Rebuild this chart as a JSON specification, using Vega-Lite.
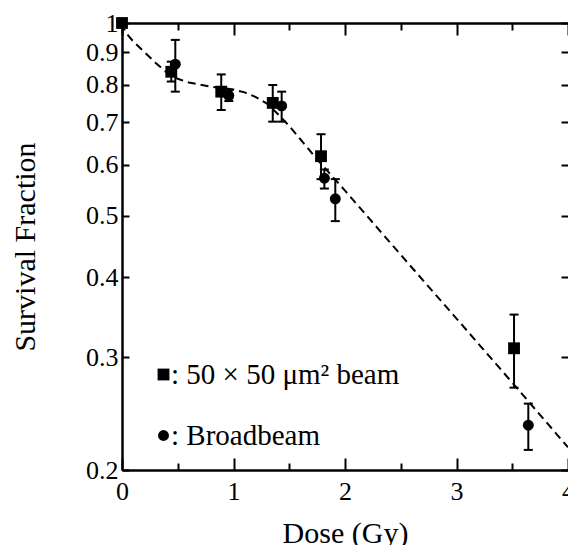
{
  "$schema": "https://vega.github.io/schema/vega-lite/v6.json",
  "width": 446,
  "height": 447,
  "autosize": "none",
  "padding": {"left": 122, "top": 23, "right": 0, "bottom": 75},
  "background": "white",
  "config": {
    "view": {"stroke": null},
    "font": "Liberation Serif",
    "axis": {
      "domainColor": "black", "domainWidth": 2.5, "tickColor": "black", "tickWidth": 2,
      "labelColor": "black", "labelFont": "Liberation Serif", "labelFontSize": 26,
      "titleFont": "Liberation Serif", "titleFontSize": 30, "titleFontWeight": "normal", "titleColor": "black",
      "grid": false, "labelFlush": false, "labelOverlap": false, "labelBound": false
    },
    "axisLeft": {"labelFont": "Liberation Serif", "labelFontSize": 26},
    "axisBottom": {"labelFont": "Liberation Serif", "labelFontSize": 26}
  },
  "datasets": {
    "fit": [
      {"dose": 0, "sf": 1.0}, {"dose": 0.03, "sf": 0.968}, {"dose": 0.1, "sf": 0.936},
      {"dose": 0.2, "sf": 0.901}, {"dose": 0.3, "sf": 0.867}, {"dose": 0.4, "sf": 0.837},
      {"dose": 0.45, "sf": 0.825}, {"dose": 0.5, "sf": 0.818}, {"dose": 0.6, "sf": 0.807},
      {"dose": 0.8, "sf": 0.795}, {"dose": 1.0, "sf": 0.787}, {"dose": 1.1, "sf": 0.779},
      {"dose": 1.2, "sf": 0.766}, {"dose": 1.3, "sf": 0.748}, {"dose": 1.4, "sf": 0.72},
      {"dose": 1.5, "sf": 0.69}, {"dose": 1.6, "sf": 0.658}, {"dose": 1.75, "sf": 0.612},
      {"dose": 2.0, "sf": 0.547}, {"dose": 2.5, "sf": 0.434}, {"dose": 3.0, "sf": 0.345},
      {"dose": 3.5, "sf": 0.274}, {"dose": 4.0, "sf": 0.217}
    ],
    "pts": [
      {"beam": "50 × 50 μm² beam", "dose": 0, "sf": 1.0, "lo": null, "hi": null},
      {"beam": "50 × 50 μm² beam", "dose": 0.442, "sf": 0.839, "lo": 0.81, "hi": 0.87},
      {"beam": "50 × 50 μm² beam", "dose": 0.89, "sf": 0.781, "lo": 0.731, "hi": 0.831},
      {"beam": "50 × 50 μm² beam", "dose": 1.352, "sf": 0.75, "lo": 0.701, "hi": 0.8},
      {"beam": "50 × 50 μm² beam", "dose": 1.785, "sf": 0.619, "lo": 0.57, "hi": 0.67},
      {"beam": "50 × 50 μm² beam", "dose": 3.516, "sf": 0.31, "lo": 0.269, "hi": 0.35},
      {"beam": "Broadbeam", "dose": 0.478, "sf": 0.862, "lo": 0.781, "hi": 0.941},
      {"beam": "Broadbeam", "dose": 0.958, "sf": 0.77, "lo": 0.755, "hi": 0.785},
      {"beam": "Broadbeam", "dose": 1.432, "sf": 0.742, "lo": 0.701, "hi": 0.781},
      {"beam": "Broadbeam", "dose": 1.815, "sf": 0.572, "lo": 0.551, "hi": 0.59},
      {"beam": "Broadbeam", "dose": 1.913, "sf": 0.531, "lo": 0.49, "hi": 0.57},
      {"beam": "Broadbeam", "dose": 3.644, "sf": 0.235, "lo": 0.215, "hi": 0.254}
    ]
  },
  "resolve": {"axis": {"x": "independent", "y": "independent"}},
  "layer": [
    {
      "data": {"name": "fit"},
      "mark": {"type": "line", "color": "black", "strokeWidth": 2, "strokeDash": [8, 5]},
      "encoding": {
        "x": {"field": "dose", "type": "quantitative", "scale": {"domain": [0, 4], "nice": false},
          "axis": {"orient": "bottom", "values": [0, 1, 2, 3, 4], "tickSize": -12, "labelPadding": 20,
            "labelFont": "Liberation Serif", "labelFontSize": 26, "labelColor": "black",
            "title": "Dose (Gy)", "titleFont": "Liberation Serif", "titleX": 223, "titleY": 72, "titleBaseline": "alphabetic", "titleAlign": "center", "titleAnchor": null}},
        "y": {"field": "sf", "type": "quantitative", "scale": {"type": "log", "domain": [0.2, 1], "nice": false},
          "axis": {"orient": "left", "values": [0.2, 0.3, 0.4, 0.5, 0.6, 0.7, 0.8, 0.9, 1], "format": "~g",
            "tickSize": -7, "labelPadding": 11,
            "labelFont": "Liberation Serif", "labelFontSize": 26, "labelColor": "black",
            "title": "Survival Fraction", "titleFont": "Liberation Serif", "titleAngle": -90, "titleX": -88, "titleY": 223.5,
            "titleBaseline": "alphabetic", "titleAlign": "center", "titleAnchor": null}}
      }
    },
    {
      "data": {"name": "pts"},
      "transform": [{"filter": "datum.lo != null"}],
      "mark": {"type": "rule", "color": "black", "strokeWidth": 2},
      "encoding": {
        "x": {"field": "dose", "type": "quantitative", "scale": {"domain": [0, 4], "nice": false},
          "axis": {"orient": "top", "values": [0, 1, 2, 3, 4], "tickSize": -12, "labels": false, "title": null}},
        "y": {"field": "lo", "type": "quantitative", "scale": {"type": "log", "domain": [0.2, 1], "nice": false},
          "axis": {"orient": "right", "values": [0.2, 0.3, 0.4, 0.5, 0.6, 0.7, 0.8, 0.9, 1], "tickSize": -7, "labels": false, "domain": false, "title": null}},
        "y2": {"field": "hi"}
      }
    },
    {
      "data": {"name": "pts"},
      "transform": [{"filter": "datum.lo != null"}],
      "mark": {"type": "tick", "orient": "horizontal", "color": "black", "size": 9, "thickness": 2, "opacity": 1},
      "encoding": {
        "x": {"field": "dose", "type": "quantitative", "scale": {"domain": [0, 4], "nice": false},
          "axis": {"orient": "bottom", "values": [0.5, 1.5, 2.5, 3.5], "tickSize": -7, "labels": false, "domain": false, "title": null}},
        "y": {"field": "lo", "type": "quantitative", "scale": {"type": "log", "domain": [0.2, 1], "nice": false}, "axis": null}
      }
    },
    {
      "data": {"name": "pts"},
      "transform": [{"filter": "datum.lo != null"}],
      "mark": {"type": "tick", "orient": "horizontal", "color": "black", "size": 9, "thickness": 2, "opacity": 1},
      "encoding": {
        "x": {"field": "dose", "type": "quantitative", "scale": {"domain": [0, 4], "nice": false},
          "axis": {"orient": "top", "values": [0.5, 1.5, 2.5, 3.5], "tickSize": -7, "labels": false, "domain": false, "title": null}},
        "y": {"field": "hi", "type": "quantitative", "scale": {"type": "log", "domain": [0.2, 1], "nice": false}, "axis": null}
      }
    },
    {
      "data": {"name": "pts"},
      "mark": {"type": "point", "filled": true, "opacity": 1, "color": "black"},
      "encoding": {
        "x": {"field": "dose", "type": "quantitative", "scale": {"domain": [0, 4], "nice": false}, "axis": null},
        "y": {"field": "sf", "type": "quantitative", "scale": {"type": "log", "domain": [0.2, 1], "nice": false}, "axis": null},
        "shape": {"field": "beam", "type": "nominal",
          "scale": {"domain": ["50 × 50 μm² beam", "Broadbeam"], "range": ["square", "circle"]},
          "legend": {"orient": "none", "legendX": 27, "legendY": 337, "title": null,
            "labelExpr": "': ' + datum.label", "labelFont": "Liberation Serif", "labelFontSize": 29,
            "labelColor": "black", "labelLimit": 0, "rowPadding": 31, "labelOffset": -7,
            "symbolFillColor": "black", "symbolStrokeWidth": 0, "symbolOpacity": 1}},
        "size": {"field": "beam", "type": "nominal",
          "scale": {"domain": ["50 × 50 μm² beam", "Broadbeam"], "range": [140, 120]}}
      }
    }
  ]
}
